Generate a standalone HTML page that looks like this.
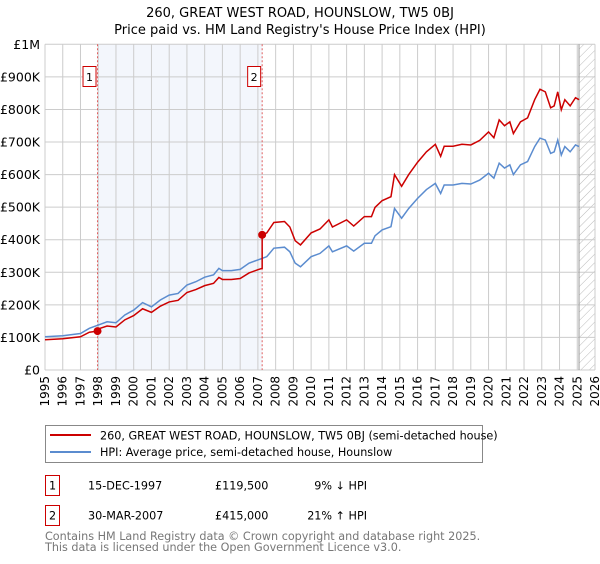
<!DOCTYPE html>
<html><head><meta charset="utf-8"><style>
body{margin:0;background:#fff;width:600px;height:560px;overflow:hidden;font-family:"DejaVu Sans","Liberation Sans",sans-serif}
svg text{font-family:"DejaVu Sans","Liberation Sans",sans-serif}
</style></head><body>
<svg id="chart" width="600" height="560" xmlns="http://www.w3.org/2000/svg">
<defs><pattern id="hatch" width="6" height="6" patternUnits="userSpaceOnUse" patternTransform="rotate(45)"><line x1="0" y1="0" x2="0" y2="6" stroke="#bbb" stroke-width="1"/></pattern></defs>
<text x="300" y="17" text-anchor="middle" font-size="13">260, GREAT WEST ROAD, HOUNSLOW, TW5 0BJ</text>
<text x="300" y="34" text-anchor="middle" font-size="13">Price paid vs. HM Land Registry's House Price Index (HPI)</text>
<g id="plot"></g>
<rect x="45.5" y="425.5" width="437" height="37" fill="#fff" stroke="#888"/>
<line x1="50" y1="435" x2="91" y2="435" stroke="#cc0000" stroke-width="2"/>
<text x="100" y="439.5" font-size="11.2">260, GREAT WEST ROAD, HOUNSLOW, TW5 0BJ (semi-detached house)</text>
<line x1="50" y1="452" x2="91" y2="452" stroke="#5b8ccf" stroke-width="2"/>
<text x="100" y="456" font-size="11.2">HPI: Average price, semi-detached house, Hounslow</text>
<g font-size="11.2">
<rect x="45.5" y="475.5" width="14" height="20" fill="#fff" stroke="#cc0000"/>
<text x="52.5" y="489.5" text-anchor="middle">1</text>
<text x="88" y="489.5">15-DEC-1997</text>
<text x="215" y="489.5">£119,500</text>
<text x="367" y="489.5" text-anchor="end">9% ↓ HPI</text>
</g>
<g font-size="11.2">
<rect x="45.5" y="505.5" width="14" height="20" fill="#fff" stroke="#cc0000"/>
<text x="52.5" y="519.5" text-anchor="middle">2</text>
<text x="88" y="519.5">30-MAR-2007</text>
<text x="215" y="519.5">£415,000</text>
<text x="367" y="519.5" text-anchor="end">21% ↑ HPI</text>
</g>
<text x="45" y="540" font-size="11.2" fill="#777">Contains HM Land Registry data © Crown copyright and database right 2025.</text>
<text x="45" y="551" font-size="11.2" fill="#777">This data is licensed under the Open Government Licence v3.0.</text>
</svg>
<script>
const hpiYears=[1995,1996,1997,1997.5,1998,1998.5,1999,1999.5,2000,2000.5,2001,2001.5,2002,2002.5,2003,2003.5,2004,2004.5,2004.8,2005,2005.5,2006,2006.5,2007,2007.25,2007.5,2007.9,2008.5,2008.8,2009.1,2009.4,2010,2010.5,2011,2011.2,2012,2012.4,2013,2013.4,2013.6,2014,2014.5,2014.7,2015.1,2015.5,2016,2016.5,2017,2017.3,2017.5,2018,2018.5,2019,2019.5,2020,2020.3,2020.6,2020.9,2021.2,2021.4,2021.8,2022.2,2022.6,2022.9,2023.2,2023.5,2023.7,2023.9,2024.1,2024.3,2024.6,2024.9,2025.1];
const hpiValues=[102,105,112,128,138,148,145,169,184,207,194,215,230,235,261,271,285,292,312,305,305,309,328,338,343,348,374,377,363,328,317,348,358,381,363,381,365,389,389,412,430,440,496,466,496,527,554,573,542,568,568,573,571,583,604,589,635,620,630,600,630,640,686,712,706,665,670,706,660,686,670,691,686];
const priceYears=[1995,1996,1997,1997.5,1997.96,1998,1998.5,1999,1999.5,2000,2000.5,2001,2001.5,2002,2002.5,2003,2003.5,2004,2004.5,2004.8,2005,2005.5,2006,2006.5,2007,2007.24,2007.24,2007.5,2007.9,2008.5,2008.8,2009.1,2009.4,2010,2010.5,2011,2011.2,2012,2012.4,2013,2013.4,2013.6,2014,2014.5,2014.7,2015.1,2015.5,2016,2016.5,2017,2017.3,2017.5,2018,2018.5,2019,2019.5,2020,2020.3,2020.6,2020.9,2021.2,2021.4,2021.8,2022.2,2022.6,2022.9,2023.2,2023.5,2023.7,2023.9,2024.1,2024.3,2024.6,2024.9,2025.1];
const priceValues=[93,96,102,116,119.5,126,135,132,154,167,188,177,196,209,214,238,247,259,266,284,278,278,281,298,308,312,415,421,453,456,439,397,384,421,433,461,439,461,442,471,471,499,520,532,600,564,600,638,670,693,656,687,687,693,691,705,731,713,768,750,762,726,762,774,830,862,854,805,811,854,799,830,811,836,830];
const saleYears=[1997.96,2007.24];
const saleValues=[119.5,415];
const saleLabels=["1","2"];
const yTickValues=[0,100,200,300,400,500,600,700,800,900,1000];
const yTickLabels=["£0","£100K","£200K","£300K","£400K","£500K","£600K","£700K","£800K","£900K","£1M"];
const xTickYears=[1995,1996,1997,1998,1999,2000,2001,2002,2003,2004,2005,2006,2007,2008,2009,2010,2011,2012,2013,2014,2015,2016,2017,2018,2019,2020,2021,2022,2023,2024,2025,2026];

const X0=45,X1=595,Y0=370,Y1=44.3;
const xs=y=>X0+(y-1995)/(2026-1995)*(X1-X0);
const ys=v=>Y0-v/1000*(Y0-Y1);
const NS="http://www.w3.org/2000/svg";
const plot=document.getElementById('plot');
function mk(t,a,p){const e=document.createElementNS(NS,t);for(const k in a)e.setAttribute(k,a[k]);(p||plot).appendChild(e);return e;}
const bg=mk('rect',{x:X0,y:Y1,width:X1-X0,height:Y0-Y1,fill:'#fff'});


const sh=mk('rect',{x:xs(saleYears[0]),y:Y1,width:xs(saleYears[1])-xs(saleYears[0]),height:Y0-Y1,fill:'#eef2fb',opacity:0.7});


const ht=mk('rect',{x:xs(2025.1),y:Y1,width:X1-xs(2025.1),height:Y0-Y1,fill:'url(#hatch)'});


xTickYears.forEach(y=>{
  mk('line',{x1:xs(y),y1:Y1,x2:xs(y),y2:Y0,stroke:'#ccc','stroke-width':1});
  const t=mk('text',{x:0,y:0,'font-size':12,'text-anchor':'end',transform:`translate(${xs(y)+4},${Y0+6}) rotate(-90)`});
  t.textContent=y;
  
  
});
yTickValues.forEach((v,i)=>{
  mk('line',{x1:X0,y1:ys(v),x2:X1,y2:ys(v),stroke:'#ccc','stroke-width':1});
  const t=mk('text',{x:40,y:ys(v)+4.5,'font-size':12.5,'text-anchor':'end'});
  t.textContent=yTickLabels[i];
  
  
});
mk('line',{x1:xs(2025.1),y1:Y1,x2:xs(2025.1),y2:Y0,stroke:'#999','stroke-width':1});
saleYears.forEach((y,i)=>{
  mk('line',{x1:xs(y),y1:Y1,x2:xs(y),y2:Y0,stroke:'#e06060','stroke-width':1,'stroke-dasharray':'2,2'});
  const b=mk('rect',{x:xs(y)-14.5,y:66.5,width:13,height:20,fill:'#fff',stroke:'#cc0000'});
  
  
  const t=mk('text',{x:xs(y)-8,y:81,'font-size':11,'text-anchor':'middle'});
  t.textContent=saleLabels[i];
});
const hp=mk('polyline',{points:hpiYears.map((y,i)=>xs(y)+','+ys(hpiValues[i])).join(' '),fill:'none',stroke:'#5b8ccf','stroke-width':1.5});


const pp=mk('polyline',{points:priceYears.map((y,i)=>xs(y)+','+ys(priceValues[i])).join(' '),fill:'none',stroke:'#cc0000','stroke-width':1.5});


saleYears.forEach((y,i)=>{
  const c=mk('circle',{cx:xs(y),cy:ys(saleValues[i]),r:4,fill:'#cc0000'});
  
  
});
</script>
</body></html>
